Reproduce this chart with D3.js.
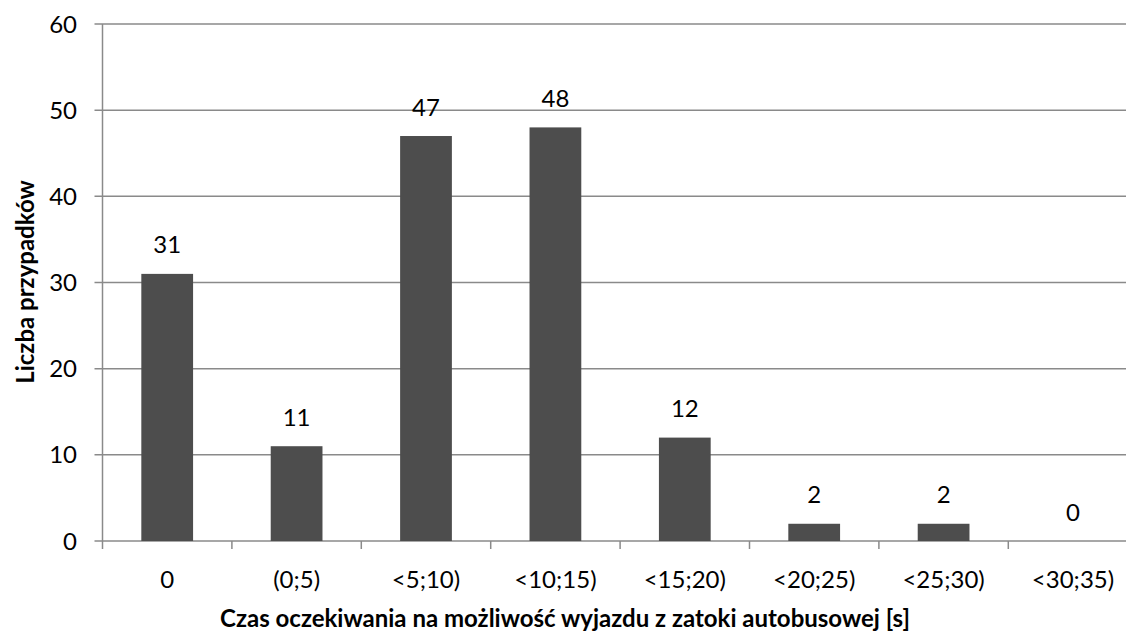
<!DOCTYPE html>
<html>
<head>
<meta charset="utf-8">
<script src="https://cdn.jsdelivr.net/npm/d3@7"></script>
<style>
  html, body { margin: 0; padding: 0; background: #fff; }
  svg { display: block; font-family: Lato, "Open Sans", sans-serif; }
</style>
</head>
<body>
<svg id="chart" width="1126" height="633"></svg>
<script>
// Wait time categories (seconds) and number of cases in each
const categories = ["0", "(0;5)", "<5;10)", "<10;15)", "<15;20)", "<20;25)", "<25;30)", "<30;35)"];
const counts = [31, 11, 47, 48, 12, 2, 2, 0];
const yTicks = [0, 10, 20, 30, 40, 50, 60];

const svg = d3.select("#chart");
const plotLeft = 102.5, plotTop = 24, plotBottom = 541, band = 129.4;
const gridColor = "#8a8a8a";

const x = d3.scaleBand()
  .domain(categories)
  .range([plotLeft, plotLeft + band * categories.length])
  .paddingInner(0.6)
  .paddingOuter(0.3);

const y = d3.scaleLinear().domain([0, 60]).range([plotBottom, plotTop]);

// horizontal gridlines
svg.append("g")
  .selectAll("line")
  .data(yTicks)
  .join("line")
  .attr("x1", plotLeft - 8).attr("x2", 1126)
  .attr("y1", d => y(d)).attr("y2", d => y(d))
  .attr("stroke", gridColor).attr("stroke-width", 1.5);

// y axis line
svg.append("line")
  .attr("x1", plotLeft).attr("x2", plotLeft)
  .attr("y1", plotTop).attr("y2", plotBottom + 8)
  .attr("stroke", gridColor).attr("stroke-width", 1.5);

// category boundary ticks
svg.append("g")
  .selectAll("line")
  .data(d3.range(1, categories.length + 1))
  .join("line")
  .attr("x1", i => plotLeft + band * i).attr("x2", i => plotLeft + band * i)
  .attr("y1", plotBottom).attr("y2", plotBottom + 8)
  .attr("stroke", gridColor).attr("stroke-width", 1.5);

// y tick labels
svg.append("g")
  .selectAll("text")
  .data(yTicks)
  .join("text")
  .attr("x", 77).attr("y", d => y(d) + 8.5)
  .attr("text-anchor", "end")
  .attr("font-size", 24)
  .attr("fill", "#000")
  .text(d => d);

// bars
svg.append("g")
  .selectAll("rect")
  .data(counts)
  .join("rect")
  .attr("x", (d, i) => x(categories[i]))
  .attr("width", x.bandwidth())
  .attr("y", d => y(d))
  .attr("height", d => y(0) - y(d))
  .attr("fill", "#4d4d4d");

// value labels
svg.append("g")
  .selectAll("text")
  .data(counts)
  .join("text")
  .attr("x", (d, i) => x(categories[i]) + x.bandwidth() / 2)
  .attr("y", d => y(d) - 20.5)
  .attr("text-anchor", "middle")
  .attr("font-size", 24)
  .attr("fill", "#000")
  .text(d => d);

// category labels
svg.append("g")
  .selectAll("text")
  .data(categories)
  .join("text")
  .attr("x", d => x(d) + x.bandwidth() / 2)
  .attr("y", 588)
  .attr("text-anchor", "middle")
  .attr("font-size", 24)
  .attr("fill", "#000")
  .text(d => d);

// axis titles
svg.append("text")
  .attr("x", 565).attr("y", 627)
  .attr("text-anchor", "middle")
  .attr("font-size", 24).attr("font-weight", "bold")
  .text("Czas oczekiwania na możliwość wyjazdu z zatoki autobusowej [s]");

svg.append("text")
  .attr("transform", "translate(33.5,282) rotate(-90)")
  .attr("text-anchor", "middle")
  .attr("font-size", 24).attr("font-weight", "bold")
  .text("Liczba przypadków");
</script>
</body>
</html>
